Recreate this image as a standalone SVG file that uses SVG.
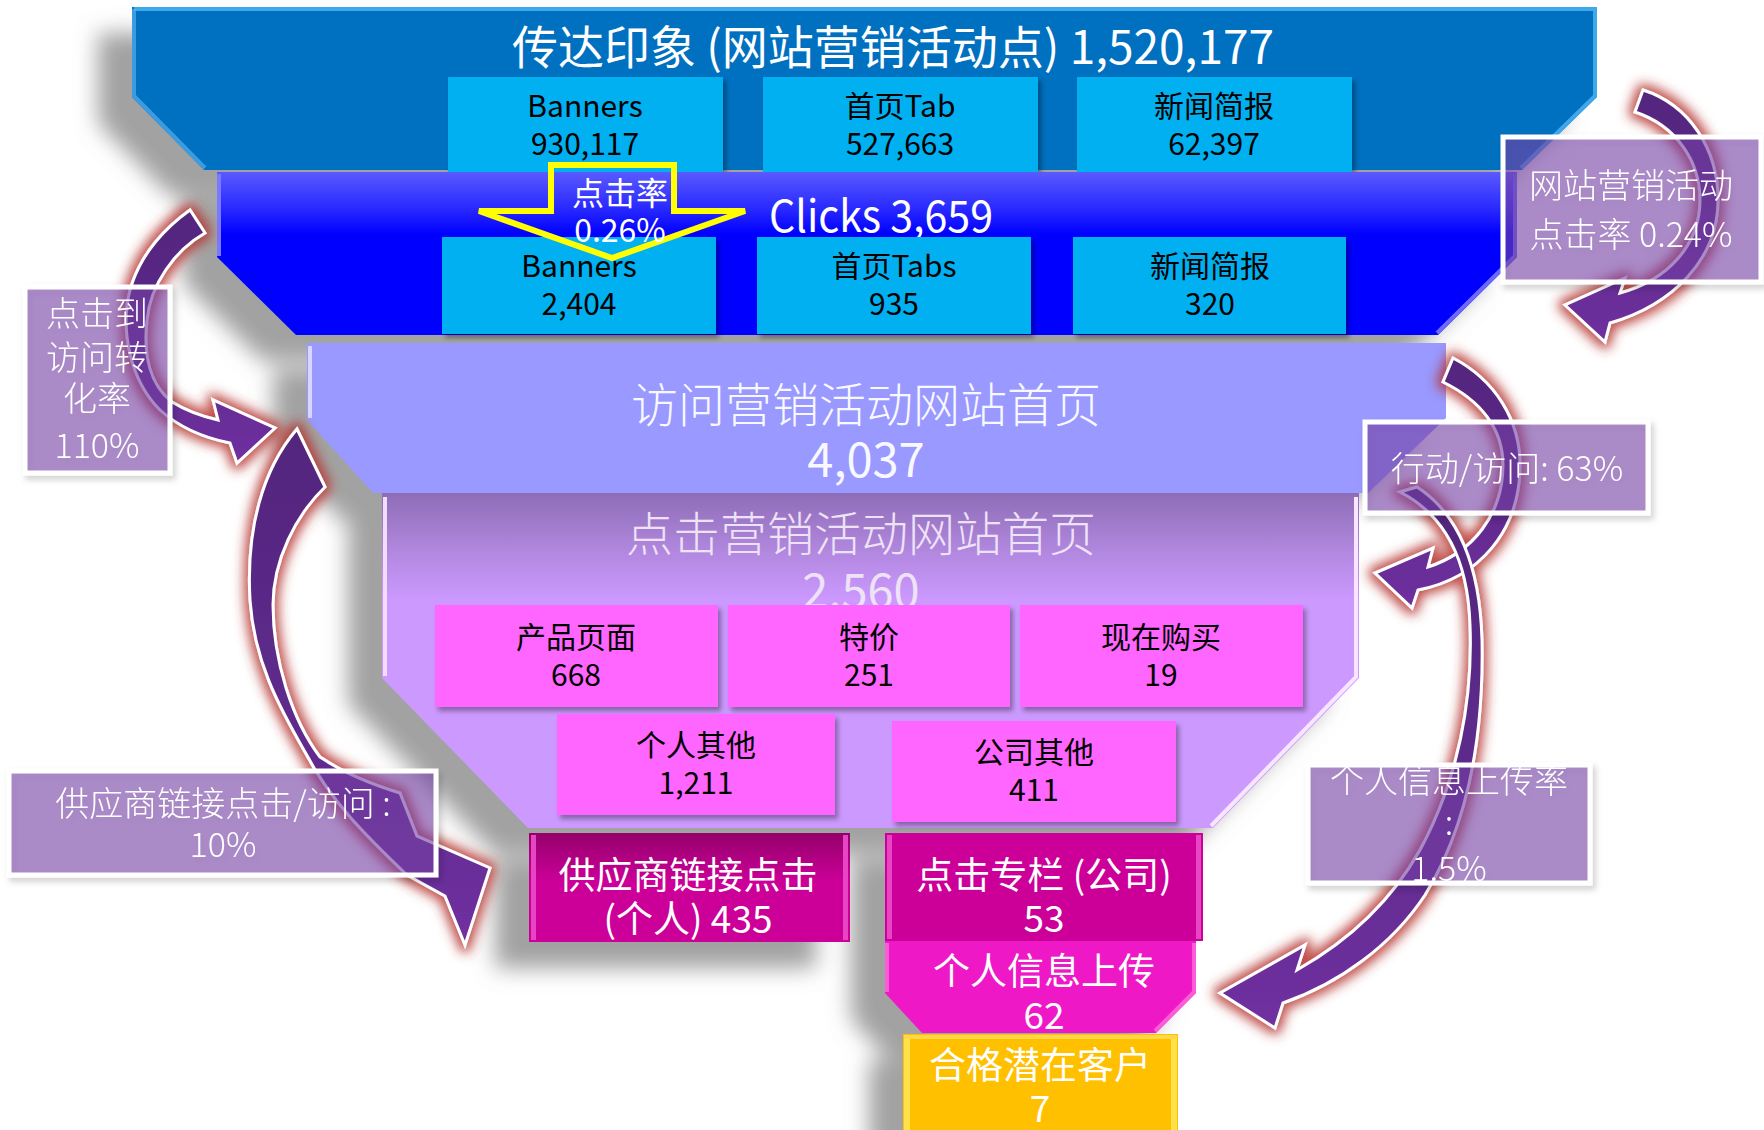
<svg xmlns="http://www.w3.org/2000/svg" xmlns:xlink="http://www.w3.org/1999/xlink" width="1764" height="1130" viewBox="0 0 1764 1130">
<defs>
<style>
text{font-family:"Noto Sans CJK SC","Liberation Sans",sans-serif}
.c{text-anchor:middle}
.w{fill:#fff}
.k{fill:#000;font-size:30px}
.big{font-size:46px}
.mg{fill:#fff;font-size:37px;text-anchor:middle}
.cy{fill:#00B0F0}
.pk{fill:#FF66FF}
.lbl{fill:#7a44aa;fill-opacity:.56;stroke:#fff;stroke-width:5}
.lt{fill:#fff;font-size:34px;text-anchor:middle;font-weight:300}
.arr{fill:url(#ag);stroke:#fff;stroke-width:3;stroke-linejoin:miter}
</style>
<linearGradient id="g2" x1="0" y1="0" x2="0" y2="1">
<stop offset="0" stop-color="#5a5aff"/><stop offset=".22" stop-color="#2a2aff"/><stop offset=".38" stop-color="#0000ff"/><stop offset="1" stop-color="#0000ff"/>
</linearGradient>
<linearGradient id="g4" x1="0" y1="0" x2="0" y2="1">
<stop offset="0" stop-color="#8e6db6"/><stop offset=".18" stop-color="#b288e0"/><stop offset=".32" stop-color="#cc99ff"/><stop offset="1" stop-color="#cc99ff"/>
</linearGradient>
<linearGradient id="gm" x1="0" y1="0" x2="0" y2="1">
<stop offset="0" stop-color="#94006a"/><stop offset=".45" stop-color="#cc0099"/><stop offset="1" stop-color="#cc0099"/>
</linearGradient>
<linearGradient id="ag" x1="0" y1="0" x2="0" y2="1">
<stop offset="0" stop-color="#53267d"/><stop offset=".55" stop-color="#5e2a8c"/><stop offset="1" stop-color="#7030a0"/>
</linearGradient>
<filter id="shOnly" x="-10%" y="-10%" width="120%" height="125%">
<feGaussianBlur in="SourceAlpha" stdDeviation="11"/>
<feOffset dx="-34" dy="26" result="b"/>
<feFlood flood-color="#8a8a8a" flood-opacity=".8"/>
<feComposite in2="b" operator="in"/>
</filter>
<filter id="bs" x="-5%" y="-5%" width="115%" height="125%">
<feGaussianBlur in="SourceAlpha" stdDeviation="2.5"/>
<feOffset dx="3" dy="4" result="b"/>
<feFlood flood-color="#000" flood-opacity=".35"/>
<feComposite in2="b" operator="in"/>
<feMerge><feMergeNode/><feMergeNode in="SourceGraphic"/></feMerge>
</filter>
<filter id="glow" x="-40%" y="-30%" width="180%" height="160%">
<feMorphology in="SourceAlpha" operator="dilate" radius="4"/>
<feGaussianBlur stdDeviation="6" result="b"/>
<feFlood flood-color="#b5302c" flood-opacity=".85"/>
<feComposite in2="b" operator="in"/>
<feMerge><feMergeNode/><feMergeNode in="SourceGraphic"/></feMerge>
</filter>
<filter id="ls" x="-10%" y="-10%" width="125%" height="130%">
<feGaussianBlur in="SourceAlpha" stdDeviation="3"/>
<feOffset dx="3" dy="4" result="b"/>
<feFlood flood-color="#000" flood-opacity=".2"/>
<feComposite in2="b" operator="in"/>
<feMerge><feMergeNode/><feMergeNode in="SourceGraphic"/></feMerge>
</filter>
</defs>

<!-- funnel shadow -->
<g id="funnel-shadow" filter="url(#shOnly)">
<use xlink:href="#b1"/><use xlink:href="#b2"/><use xlink:href="#b3"/><use xlink:href="#b4"/>
<use xlink:href="#b5"/><use xlink:href="#b6"/><use xlink:href="#b7"/><use xlink:href="#b8"/>
</g>

<g id="impressions">
<polygon id="b1" points="132,7 1597,7 1597,97 1522,170 204,170 132,97" fill="#0070C0"/>
<polyline points="134,9 134,96 205,168" fill="none" stroke="#4aa8ea" stroke-width="4" opacity=".8"/>
<polyline points="134,9 1595,9 1595,96 1521,168" fill="none" stroke="#4fb6f5" stroke-width="4" opacity=".8"/>
<text x="893" y="64" class="w c big">传达印象 (网站营销活动点) 1,520,177</text>
</g>
<g id="imp-banners"><rect x="448" y="77" width="275" height="96" class="cy" filter="url(#bs)"/><text x="585" y="117" class="k c">Banners</text><text x="585" y="155" class="k c">930,117</text></g>
<g id="imp-tab"><rect x="763" y="77" width="275" height="96" class="cy" filter="url(#bs)"/><text x="900" y="117" class="k c">首页Tab</text><text x="900" y="155" class="k c">527,663</text></g>
<g id="imp-news"><rect x="1077" y="77" width="275" height="96" class="cy" filter="url(#bs)"/><text x="1214" y="117" class="k c">新闻简报</text><text x="1214" y="155" class="k c">62,397</text></g>

<g id="clicks">
<polygon id="b2" points="217,172 1517,172 1517,257 1438,335 296,335 217,257" fill="url(#g2)"/>
<polyline points="219,174 219,256" fill="none" stroke="#7a7aff" stroke-width="4"/>
<polyline points="1515,174 1515,256 1437,333" fill="none" stroke="#6a6aff" stroke-width="4"/>
<text x="769" y="232" class="w" font-size="44" textLength="224" lengthAdjust="spacingAndGlyphs">Clicks 3,659</text>
</g>
<g id="clk-banners"><rect x="442" y="237" width="274" height="97" class="cy" filter="url(#bs)"/><text x="579" y="277" class="k c">Banners</text><text x="579" y="315" class="k c">2,404</text></g>
<g id="clk-tabs"><rect x="757" y="237" width="274" height="97" class="cy" filter="url(#bs)"/><text x="894" y="277" class="k c">首页Tabs</text><text x="894" y="315" class="k c">935</text></g>
<g id="clk-news"><rect x="1073" y="237" width="273" height="97" class="cy" filter="url(#bs)"/><text x="1210" y="277" class="k c">新闻简报</text><text x="1210" y="315" class="k c">320</text></g>

<g id="visits">
<polygon id="b3" points="307,343 1446,343 1446,418 1368,493 373,493 307,420" fill="#9999FF"/>
<polyline points="310,346 310,418" fill="none" stroke="#d6d6ff" stroke-width="4"/>
<text x="866" y="422" class="c" font-size="47" fill="#f8f8ff" font-weight="300">访问营销活动网站首页</text>
<text x="866" y="477" class="c" font-size="47" fill="#f8f8ff">4,037</text>
</g>

<g id="engaged">
<polygon id="b4" points="382,493 1359,493 1359,678 1213,828 528,828 382,678" fill="url(#g4)"/>
<polyline points="385,497 385,676" fill="none" stroke="#f3ddff" stroke-width="4"/>
<polyline points="1356,497 1356,677 1211,826" fill="none" stroke="#f8e6ff" stroke-width="4"/>
<text x="861" y="551" class="c" font-size="47" fill="#eee2f7" font-weight="300">点击营销活动网站首页</text>
<text x="861" y="608" class="c" font-size="47" fill="#eee2f7">2.560</text>
</g>
<g id="eng-product"><rect x="435" y="605" width="283" height="102" class="pk" filter="url(#bs)"/><text x="576" y="648" class="k c">产品页面</text><text x="576" y="686" class="k c">668</text></g>
<g id="eng-special"><rect x="728" y="605" width="282" height="102" class="pk" filter="url(#bs)"/><text x="869" y="648" class="k c">特价</text><text x="869" y="686" class="k c">251</text></g>
<g id="eng-buy"><rect x="1020" y="605" width="283" height="102" class="pk" filter="url(#bs)"/><text x="1161" y="648" class="k c">现在购买</text><text x="1161" y="686" class="k c">19</text></g>
<g id="eng-personal"><rect x="557" y="714" width="278" height="101" class="pk" filter="url(#bs)"/><text x="696" y="756" class="k c">个人其他</text><text x="696" y="794" class="k c">1,211</text></g>
<g id="eng-company"><rect x="892" y="721" width="284" height="101" class="pk" filter="url(#bs)"/><text x="1034" y="763" class="k c">公司其他</text><text x="1034" y="801" class="k c">411</text></g>

<g id="supplier-clicks">
<rect id="b5" x="529" y="833" width="321" height="109" fill="url(#gm)"/>
<rect x="531" y="835" width="5" height="105" fill="#e845c4"/><rect x="843" y="835" width="5" height="105" fill="#e845c4"/>
<text x="688" y="889" class="mg">供应商链接点击</text><text x="688" y="933" class="mg">(个人) 435</text>
</g>
<g id="column-clicks">
<rect id="b6" x="885" y="833" width="318" height="108" fill="#cc0099"/>
<rect x="887" y="835" width="5" height="104" fill="#e845c4"/><rect x="1196" y="835" width="5" height="104" fill="#e845c4"/>
<text x="1044" y="889" class="mg">点击专栏 (公司)</text><text x="1044" y="932" class="mg">53</text>
</g>
<g id="info-upload">
<polygon id="b7" points="885,941 1196,941 1196,993 1156,1033 922,1033 885,993" fill="#EE18C6"/>
<polyline points="887,943 887,992" fill="none" stroke="#ff5ad8" stroke-width="4"/>
<polyline points="1194,943 1194,992 1155,1031" fill="none" stroke="#ff5ad8" stroke-width="4"/>
<text x="1044" y="985" class="mg">个人信息上传</text><text x="1044" y="1029" class="mg">62</text>
</g>
<g id="qualified-leads">
<rect id="b8" x="903" y="1034" width="275" height="96" fill="#FFC000"/>
<rect x="904" y="1035" width="6" height="95" fill="#ffe24a"/><rect x="1171" y="1035" width="6" height="95" fill="#ffe24a"/>
<rect x="904" y="1035" width="273" height="4" fill="#ffd84a"/>
<text x="1040" y="1079" class="mg">合格潜在客户</text><text x="1040" y="1122" class="mg">7</text>
</g>

<g id="connectors">
<g id="ctr-arrow">
<polygon points="551,165 674,165 674,211 745,211 612,258 479,211 551,211" fill="none" stroke="#FFFF00" stroke-width="6"/>
<text x="620" y="205" class="w c" font-size="32">点击率</text>
<text x="620" y="242" class="w c" font-size="32">0.26%</text>
</g>
<g filter="url(#glow)">
<path class="arr" d="M190,210 C165,228 140,255 130,290 C120,330 130,380 160,410 C180,428 205,438 230,443 L237,463 L275,428 L213,400 L218,420 C200,416 185,410 172,402 C150,385 143,355 147,320 C150,285 175,250 205,233 Z"/>
<path class="arr" d="M297,429 L325,487 C296,515 273,560 273,605 C273,660 292,720 320,757 C350,777 380,787 400,793 L417,836 L490,868 L465,945 L445,896 L407,875 C365,835 330,800 305,752 C278,705 254,660 250,600 C246,530 262,470 297,429 Z"/>
<path class="arr" d="M1643,90 C1690,105 1718,150 1718,200 C1718,260 1672,305 1610,323 L1605,342 L1565,305 L1625,278 L1620,293 C1668,280 1700,245 1700,200 C1700,160 1675,125 1635,112 Z"/>
<path class="arr" d="M1453,358 C1495,380 1520,420 1520,465 C1520,530 1480,578 1418,590 L1412,608 L1375,573 L1433,548 L1428,567 C1472,553 1503,515 1503,465 C1503,428 1480,400 1443,382 Z"/>
<path class="arr" d="M1400,492 C1445,515 1468,560 1470,625 C1473,700 1458,780 1420,850 C1392,900 1350,940 1297,970 L1305,945 L1220,993 L1275,1028 L1283,1003 C1340,983 1392,945 1425,895 C1465,830 1484,745 1482,640 C1480,570 1460,515 1417,487 Z"/>
</g>
</g>

<g id="rate-click-visit" filter="url(#ls)">
<rect x="25" y="287" width="145" height="186" class="lbl"/>
<text x="97" y="326" class="lt">点击到</text><text x="97" y="370" class="lt">访问转</text><text x="97" y="411" class="lt">化率</text><text x="97" y="458" class="lt">110%</text>
</g>
<g id="rate-ctr" filter="url(#ls)">
<rect x="1503" y="137" width="258" height="145" class="lbl"/>
<text x="1631" y="198" class="lt">网站营销活动</text><text x="1631" y="247" class="lt">点击率 0.24%</text>
</g>
<g id="rate-action" filter="url(#ls)">
<rect x="1365" y="422" width="283" height="91" class="lbl"/>
<text x="1507" y="481" class="lt">行动/访问: 63%</text>
</g>
<g id="rate-supplier" filter="url(#ls)">
<rect x="9" y="771" width="427" height="104" class="lbl"/>
<text x="223" y="816" class="lt">供应商链接点击/访问 :</text><text x="223" y="857" class="lt">10%</text>
</g>
<g id="rate-upload" filter="url(#ls)">
<rect x="1308" y="765" width="282" height="118" class="lbl"/>
<text x="1449" y="793" class="lt">个人信息上传率</text><text x="1449" y="835" class="lt">:</text><text x="1449" y="881" class="lt">1.5%</text>
</g>
</svg>
